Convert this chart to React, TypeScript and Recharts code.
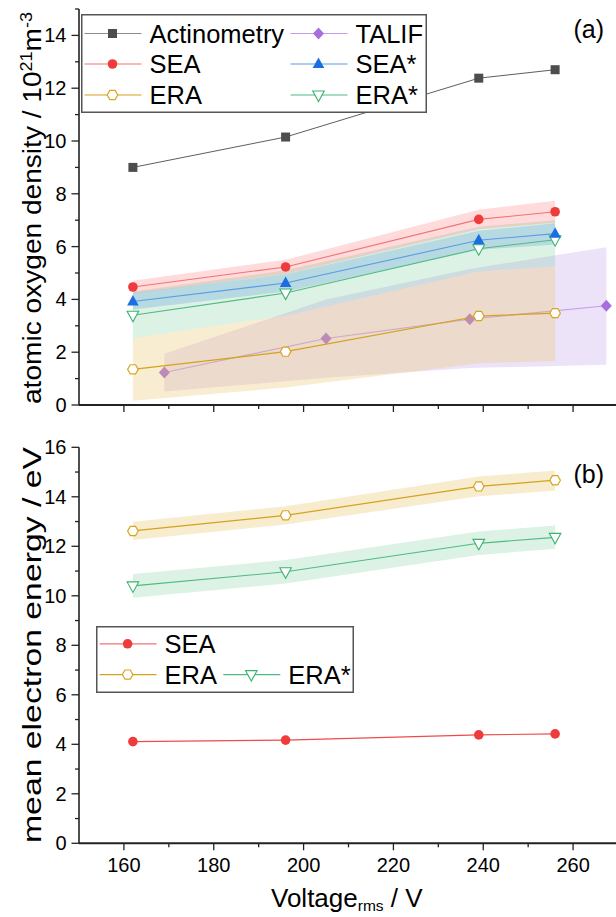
import React from "react";
import { ComposedChart, Line, Area, XAxis, YAxis, Legend } from "recharts";

// discharge voltage (V rms) of the measurement points
const voltage = [162, 196, 239, 256];
const talifVoltage = [169, 205, 237, 267.4];

// (a) atomic oxygen density / 10^21 m^-3
const actinometry = [9.0, 10.15, 12.38, 12.7];
const sea = [4.47, 5.23, 7.03, 7.32];
const seaLow = [4.22, 4.96, 6.66, 6.9];
const seaHigh = [4.71, 5.5, 7.4, 7.74];
const seaStar = [3.92, 4.62, 6.24, 6.49];
const seaStarLow = [3.62, 4.3, 5.88, 6.08];
const seaStarHigh = [4.24, 4.95, 6.6, 6.88];
const era = [1.35, 2.02, 3.37, 3.48];
const eraLow = [0.16, 0.66, 1.58, 1.67];
const eraHigh = [2.53, 3.38, 5.06, 5.25];
const eraStar = [3.4, 4.24, 5.92, 6.26];
const eraStarLow = [2.53, 3.38, 5.06, 5.25];
const eraStarHigh = [4.3, 5.1, 6.75, 7.0];
const talif = [1.23, 2.52, 3.25, 3.76];
const talifLow = [0.51, 1.03, 1.4, 1.52];
const talifHigh = [1.94, 4.0, 5.15, 5.98];

// (b) mean electron energy / eV
const energySea = [4.11, 4.17, 4.38, 4.42];
const energyEra = [12.62, 13.25, 14.42, 14.67];
const energyEraLow = [12.25, 12.88, 14.02, 14.25];
const energyEraHigh = [12.99, 13.62, 14.82, 15.06];
const energyEraStar = [10.4, 10.97, 12.12, 12.36];
const energyEraStarLow = [9.92, 10.5, 11.65, 11.9];
const energyEraStarHigh = [10.88, 11.45, 12.6, 12.84];

// axes
const xTicks = [160, 170, 180, 190, 200, 210, 220, 230, 240, 250, 260];
const densityTicks = [0, 1, 2, 3, 4, 5, 6, 7, 8, 9, 10, 11, 12, 13, 14, 15];
const energyTicks = [0, 1, 2, 3, 4, 5, 6, 7, 8, 9, 10, 11, 12, 13, 14, 15, 16];

const topLegend = ["Actinometry", "TALIF", "SEA", "SEA*", "ERA", "ERA*"];
const bottomLegend = ["SEA", "", "ERA", "ERA*"];

const FONT = '"Liberation Sans", Arial, sans-serif';
const AXIS = "#222";

type Shape = "square" | "circle" | "hexagon" | "diamond" | "triangleUp" | "triangleDown";

const styles: Record<string, { shape: Shape; line: string; key: string; fill: string; stroke: string }> = {
  Actinometry: { shape: "square", line: "#5e5e5e", key: "#8c8c8c", fill: "#4d4d4d", stroke: "#4d4d4d" },
  TALIF: { shape: "diamond", line: "#c59ceb", key: "#c59ceb", fill: "#a86fdc", stroke: "#a86fdc" },
  SEA: { shape: "circle", line: "#f27373", key: "#f27373", fill: "#ef3b3b", stroke: "#ef3b3b" },
  "SEA*": { shape: "triangleUp", line: "#5b9be6", key: "#5b9be6", fill: "#1a6ee0", stroke: "#1a6ee0" },
  ERA: { shape: "hexagon", line: "#d4a21c", key: "#d4a21c", fill: "#fff", stroke: "#d9a520" },
  "ERA*": { shape: "triangleDown", line: "#4fbb82", key: "#4fbb82", fill: "#fff", stroke: "#3cb371" },
};

const series = (xs: number[], ys: number[]) => xs.map((x, i) => ({ x, y: ys[i] }));
const band = (xs: number[], lo: number[], hi: number[]) =>
  xs.map((x, i) => ({ x, range: [lo[i], hi[i]] }));

function Marker({ shape, cx, cy, fill, stroke }: any) {
  switch (shape) {
    case "square":
      return <rect x={cx - 4.5} y={cy - 4.5} width={9} height={9} fill={fill} />;
    case "circle":
      return <circle cx={cx} cy={cy} r={4.8} fill={fill} />;
    case "hexagon": {
      const r = 5.3;
      const pts = [0, 60, 120, 180, 240, 300]
        .map((a) => `${cx + r * Math.cos((a * Math.PI) / 180)},${cy + r * Math.sin((a * Math.PI) / 180)}`)
        .join(" ");
      return <polygon points={pts} fill={fill} stroke={stroke} strokeWidth={1.2} />;
    }
    case "diamond":
      return <polygon points={`${cx},${cy - 6} ${cx + 5.5},${cy} ${cx},${cy + 6} ${cx - 5.5},${cy}`} fill={fill} />;
    case "triangleUp":
      return <polygon points={`${cx},${cy - 6.5} ${cx + 5.8},${cy + 4} ${cx - 5.8},${cy + 4}`} fill={fill} />;
    default:
      return (
        <polygon
          points={`${cx - 5.8},${cy - 4} ${cx + 5.8},${cy - 4} ${cx},${cy + 6.5}`}
          fill={fill}
          stroke={stroke}
          strokeWidth={1.1}
        />
      );
  }
}

const dotOf = (name: string) => (p: any) => {
  const s = styles[name];
  if (p.cx == null || p.cy == null) return <g key={`${name}-${p.index}`} />;
  return <Marker key={`${name}-${p.index}`} shape={s.shape} cx={p.cx} cy={p.cy} fill={s.fill} stroke={s.stroke} />;
};

// tick renderers: tickSize/tickMargin are 0, so (x, y) sits on the axis line
const xTick = (dir: number, major: number, minor: number, labels: boolean) => (p: any) => {
  const { x, y, payload } = p;
  const isMajor = payload.value % 20 === 0;
  const len = isMajor ? major : minor;
  return (
    <g>
      <line x1={x} x2={x} y1={y} y2={y + dir * len} stroke={AXIS} strokeWidth={1.3} />
      {labels && isMajor && (
        <text x={x} y={y + 29} textAnchor="middle" fontSize={20} fontFamily={FONT} fill="#000">
          {payload.value}
        </text>
      )}
    </g>
  );
};

const yTick = (dir: number, major: number, minor: number, labels: boolean) => (p: any) => {
  const { x, y, payload } = p;
  const isMajor = payload.value % 2 === 0;
  const len = isMajor ? major : minor;
  return (
    <g>
      <line x1={x} x2={x + dir * len} y1={y} y2={y} stroke={AXIS} strokeWidth={1.3} />
      {labels && isMajor && (
        <text x={x - 12.5} y={y + 7} textAnchor="end" fontSize={20} fontFamily={FONT} fill="#000">
          {payload.value}
        </text>
      )}
    </g>
  );
};

function LegendBox({ items, width, height, cols, rows }: any) {
  return (
    <svg width={width} height={height} style={{ display: "block" }}>
      <rect x={0.75} y={0.75} width={width - 1.5} height={height - 1.5} fill="#fff" stroke="#555" strokeWidth={1.5} />
      {items.map((name: string, i: number) => {
        if (!name) return null;
        const s = styles[name];
        const lx = cols[i % 2];
        const cy = rows[Math.floor(i / 2)];
        return (
          <g key={name}>
            <line x1={lx} x2={lx + 57} y1={cy} y2={cy} stroke={s.key} strokeWidth={1.2} />
            <Marker shape={s.shape} cx={lx + 28} cy={cy} fill={s.fill} stroke={s.stroke} />
            <text x={lx + 65} y={cy + 9} fontSize={25.5} fontFamily={FONT} fill="#000">
              {name}
            </text>
          </g>
        );
      })}
    </svg>
  );
}

const common = { isAnimationActive: false, activeDot: false as const, legendType: "none" as const };

function Frame({ yTicks, yDomain, bottomLabels, bottomHeight }: any) {
  return [
    <XAxis
      key="xb"
      dataKey="x"
      type="number"
      domain={[150, 270]}
      ticks={xTicks}
      interval={0}
      height={bottomHeight}
      tickSize={0}
      tickMargin={0}
      tickLine={false}
      tick={xTick(1, 7, 4, bottomLabels)}
      axisLine={{ stroke: AXIS, strokeWidth: 2 }}
      allowDataOverflow
    />,
    <XAxis
      key="xt"
      xAxisId="top"
      orientation="top"
      dataKey="x"
      type="number"
      domain={[150, 270]}
      ticks={xTicks}
      interval={0}
      height={0}
      tickSize={0}
      tickMargin={0}
      tickLine={false}
      tick={xTick(1, 6, 3.5, false)}
      axisLine={{ stroke: AXIS, strokeWidth: 1.6 }}
      allowDataOverflow
    />,
    <YAxis
      key="yl"
      type="number"
      domain={yDomain}
      ticks={yTicks}
      interval={0}
      width={79}
      tickSize={0}
      tickMargin={0}
      tickLine={false}
      tick={yTick(-1, 7.5, 4, true)}
      axisLine={{ stroke: AXIS, strokeWidth: 1.6 }}
      allowDataOverflow
    />,
    <YAxis
      key="yr"
      yAxisId="right"
      orientation="right"
      type="number"
      domain={yDomain}
      ticks={yTicks}
      interval={0}
      width={0}
      tickSize={0}
      tickMargin={0}
      tickLine={false}
      tick={yTick(-1, 9, 5, false)}
      axisLine={{ stroke: AXIS, strokeWidth: 1.6 }}
      allowDataOverflow
    />,
  ];
}

const layer = (top: number): React.CSSProperties => ({ position: "absolute", left: 0, top });

export default function App() {
  return (
    <div
      style={{
        position: "fixed",
        left: 0,
        top: 0,
        width: 616,
        height: 917,
        overflow: "hidden",
        background: "#fff",
        fontFamily: FONT,
      }}
    >
      {/* TALIF sits underneath the model bands, so it gets its own layer below panel (a) */}
      <div style={layer(0)}>
        <ComposedChart width={640} height={430} margin={{ top: 9, right: 22, bottom: 25, left: 79 }}>
          <XAxis dataKey="x" type="number" domain={[150, 270]} hide allowDataOverflow />
          <YAxis type="number" domain={[0, 15]} hide allowDataOverflow />
          <Area data={band(talifVoltage, talifLow, talifHigh)} dataKey="range" type="linear" stroke="none" fill="#b88ee8" fillOpacity={0.25} dot={false} {...common} />
          <Line data={series(talifVoltage, talif)} dataKey="y" type="linear" stroke={styles.TALIF.line} strokeWidth={1.2} dot={dotOf("TALIF")} {...common} />
        </ComposedChart>
      </div>

      <div style={layer(0)}>
        <ComposedChart width={640} height={430} margin={{ top: 9, right: 22, bottom: 0, left: 0 }}>
          {Frame({ yTicks: densityTicks, yDomain: [0, 15], bottomLabels: false, bottomHeight: 25 })}
          <Area data={band(voltage, eraStarLow, eraStarHigh)} dataKey="range" type="linear" stroke="none" fill="#5cc48a" fillOpacity={0.22} dot={false} {...common} />
          <Area data={band(voltage, seaStarLow, seaStarHigh)} dataKey="range" type="linear" stroke="none" fill="#4a8fd8" fillOpacity={0.25} dot={false} {...common} />
          <Area data={band(voltage, seaLow, seaHigh)} dataKey="range" type="linear" stroke="none" fill="#ff5a5a" fillOpacity={0.22} dot={false} {...common} />
          <Area data={band(voltage, eraLow, eraHigh)} dataKey="range" type="linear" stroke="none" fill="#e8c66e" fillOpacity={0.32} dot={false} {...common} />
          <Line data={series(voltage, actinometry)} dataKey="y" type="linear" stroke={styles.Actinometry.line} strokeWidth={1} dot={dotOf("Actinometry")} {...common} />
          <Line data={series(voltage, eraStar)} dataKey="y" type="linear" stroke={styles["ERA*"].line} strokeWidth={1.1} dot={dotOf("ERA*")} {...common} />
          <Line data={series(voltage, seaStar)} dataKey="y" type="linear" stroke={styles["SEA*"].line} strokeWidth={1.1} dot={dotOf("SEA*")} {...common} />
          <Line data={series(voltage, sea)} dataKey="y" type="linear" stroke={styles.SEA.line} strokeWidth={1.1} dot={dotOf("SEA")} {...common} />
          <Line data={series(voltage, era)} dataKey="y" type="linear" stroke={styles.ERA.line} strokeWidth={1.2} dot={dotOf("ERA")} {...common} />
          <Legend
            layout="horizontal"
            verticalAlign="middle"
            align="center"
            wrapperStyle={{ left: 81, top: 14, width: 346, height: 99 }}
            content={() => (
              <LegendBox items={topLegend} width={346} height={99} cols={[3.5, 209.5]} rows={[19.5, 50, 81]} />
            )}
          />
        </ComposedChart>
      </div>

      <div style={layer(430)}>
        <ComposedChart width={640} height={487} margin={{ top: 17.3, right: 22, bottom: 0, left: 0 }}>
          {Frame({ yTicks: energyTicks, yDomain: [0, 16], bottomLabels: true, bottomHeight: 73.7 })}
          <Area data={band(voltage, energyEraStarLow, energyEraStarHigh)} dataKey="range" type="linear" stroke="none" fill="#5cc48a" fillOpacity={0.22} dot={false} {...common} />
          <Area data={band(voltage, energyEraLow, energyEraHigh)} dataKey="range" type="linear" stroke="none" fill="#e8c66e" fillOpacity={0.34} dot={false} {...common} />
          <Line data={series(voltage, energySea)} dataKey="y" type="linear" stroke="#f04a4a" strokeWidth={1.1} dot={dotOf("SEA")} {...common} />
          <Line data={series(voltage, energyEraStar)} dataKey="y" type="linear" stroke={styles["ERA*"].line} strokeWidth={1.1} dot={dotOf("ERA*")} {...common} />
          <Line data={series(voltage, energyEra)} dataKey="y" type="linear" stroke={styles.ERA.line} strokeWidth={1.2} dot={dotOf("ERA")} {...common} />
          <Legend
            layout="horizontal"
            verticalAlign="middle"
            align="center"
            wrapperStyle={{ left: 95.5, top: 195.5, width: 258, height: 67 }}
            content={() => (
              <LegendBox items={bottomLegend} width={258} height={67} cols={[3.6, 127.3]} rows={[17.8, 48.6]} />
            )}
          />
        </ComposedChart>
      </div>

      <svg width={616} height={917} style={{ position: "absolute", left: 0, top: 0, pointerEvents: "none" }}>
        <g fontFamily={FONT} fill="#000">
          <text transform="translate(41,404) rotate(-90)" fontSize={25} textLength={392} lengthAdjust="spacingAndGlyphs">
            atomic oxygen density / 10<tspan dy={-9} fontSize={16}>21</tspan>
            <tspan dy={9}>m</tspan>
            <tspan dy={-9} fontSize={16}>-3</tspan>
          </text>
          <text transform="translate(41,843) rotate(-90)" fontSize={25} textLength={396} lengthAdjust="spacingAndGlyphs">
            mean electron energy / eV
          </text>
          <text x={271} y={907} fontSize={26}>
            Voltage<tspan fontSize={15.5} dy={4}>rms</tspan>
            <tspan dy={-4}> / V</tspan>
          </text>
          <text x={604} y={38} fontSize={25} textAnchor="end">(a)</text>
          <text x={604} y={483} fontSize={25} textAnchor="end">(b)</text>
        </g>
      </svg>
    </div>
  );
}
